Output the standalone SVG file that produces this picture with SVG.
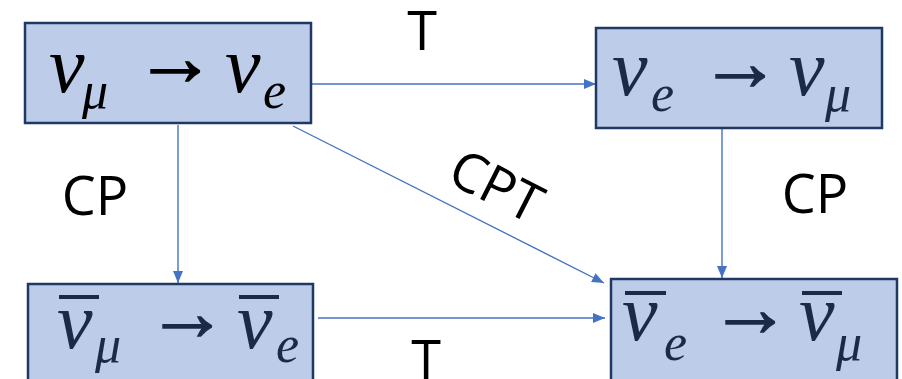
<svg xmlns="http://www.w3.org/2000/svg" width="902" height="379" viewBox="0 0 902 379">
<style>
.box{fill:#bdcce9;stroke:#1f3864;stroke-width:2.5}
.m{font-family:"Liberation Serif",serif;font-style:italic;font-size:80px}
.s{font-family:"Liberation Serif",serif;font-style:italic;font-size:52px}
.ar{font-family:"Liberation Sans",sans-serif;font-size:82px;text-anchor:middle;stroke-width:1.3}
.k{fill:#000;stroke:#000}
.n{fill:#1b2a47;stroke:#1b2a47}
.m,.s{stroke:none}
.bar{fill:#1b2a47}
.lbl{font-family:"Open Sans","Liberation Sans",sans-serif;font-size:54px;fill:#000}
.c{stroke:#4472c4;stroke-width:1.4;fill:none;marker-end:url(#ah)}
</style>
<defs>
<marker id="ah" viewBox="0 0 12 10" refX="12" refY="5" markerWidth="12" markerHeight="10" markerUnits="userSpaceOnUse" orient="auto">
<path d="M0,0 L12,5 L0,10 Z" fill="#4472c4"/>
</marker>
</defs>
<g id="connectors">
<line class="c" x1="305" y1="84" x2="596" y2="84"/>
<line class="c" x1="178" y1="125" x2="178" y2="283"/>
<line class="c" x1="722" y1="129" x2="722" y2="278"/>
<line class="c" x1="293" y1="126" x2="604" y2="283"/>
<line class="c" x1="318" y1="318" x2="605" y2="318"/>
<text class="lbl" x="422" y="50" text-anchor="middle">T</text>
<text class="lbl" x="426" y="379" text-anchor="middle">T</text>
<text class="lbl" x="95" y="215" text-anchor="middle">CP</text>
<text class="lbl" x="815" y="213" text-anchor="middle">CP</text>
<text class="lbl" x="0" y="0" text-anchor="middle" transform="translate(488,203) rotate(27)">CPT</text>
</g>
<g id="node1">
<rect class="box" x="25" y="23" width="286" height="100"/>
<text class="m k" x="49" y="92">ν</text>
<text class="s k" x="82" y="108">μ</text>
<text class="ar k" x="175" y="85">→</text>
<text class="m k" x="225" y="92">ν</text>
<text class="s k" x="263" y="108">e</text>
</g>
<g id="node2">
<rect class="box" x="596" y="28" width="286" height="100"/>
<text class="m n" x="612" y="95">ν</text>
<text class="s n" x="651" y="111">e</text>
<text class="ar n" x="740" y="90">→</text>
<text class="m n" x="789" y="95">ν</text>
<text class="s n" x="825" y="111">μ</text>
</g>
<g id="node3">
<rect class="box" x="28" y="284" width="285" height="110"/>
<rect class="bar" x="59" y="295" width="40" height="4"/>
<rect class="bar" x="239" y="295" width="40" height="4"/>
<text class="m n" x="57" y="348">ν</text>
<text class="s n" x="95" y="362">μ</text>
<text class="ar n" x="187" y="340">→</text>
<text class="m n" x="237" y="348">ν</text>
<text class="s n" x="276" y="362">e</text>
</g>
<g id="node4">
<rect class="box" x="611" y="279" width="286" height="110"/>
<rect class="bar" x="625" y="291" width="41" height="4"/>
<rect class="bar" x="802" y="291" width="40" height="4"/>
<text class="m n" x="622" y="340">ν</text>
<text class="s n" x="664" y="360">e</text>
<text class="ar n" x="750" y="336">→</text>
<text class="m n" x="799" y="340">ν</text>
<text class="s n" x="836" y="360">μ</text>
</g>
</svg>
